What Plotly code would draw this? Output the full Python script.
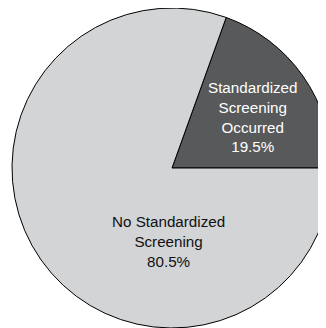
import plotly.graph_objects as go

labels = ["Standardized<br>Screening<br>Occurred", "No Standardized<br>Screening"]
values = [19.5, 80.5]
colors = ["#58595b", "#d3d4d6"]
text_colors = ["#ffffff", "#111111"]

# page body adds an 8px offset; figure sized so the pie spills past the window edge
W, H = 324, 320
ML, MT, MR, MB = 4, 0, 0, 0

fig = go.Figure(go.Pie(
    labels=labels,
    values=values,
    sort=False,
    direction="clockwise",
    rotation=90 - 360 * values[0] / sum(values),
    marker=dict(colors=colors, line=dict(color="#000000", width=1)),
    textinfo="none",
    hoverinfo="none",
    showlegend=False,
))

# label anchor positions in figure pixels (centre of text block)
label_px = [(245, 109), (160, 233)]
pw, ph = W - ML - MR, H - MT - MB
for lab, val, tc, (px, py) in zip(labels, values, text_colors, label_px):
    fig.add_annotation(
        x=(px - ML) / pw, y=1 - (py - MT) / ph, xref="paper", yref="paper",
        text=f"{lab}<br>{val}%", showarrow=False,
        font=dict(family="Liberation Sans, Arial, sans-serif", size=15.2, color=tc),
        xanchor="center", yanchor="middle", align="center",
    )

fig.update_layout(
    width=W, height=H,
    margin=dict(l=ML, r=MR, t=MT, b=MB),
    paper_bgcolor="#ffffff", plot_bgcolor="#ffffff",
)
fig.write_html("out.html")
